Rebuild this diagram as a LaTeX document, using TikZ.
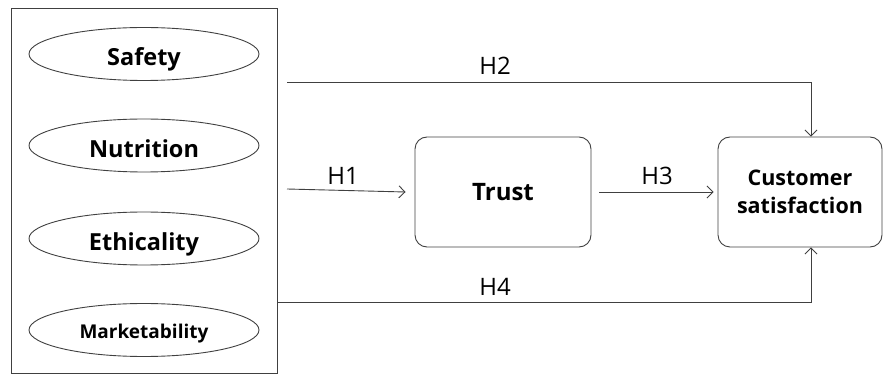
\documentclass[tikz,border=0pt]{standalone}
\usepackage{fontspec}
\setmainfont{Open Sans}
\usetikzlibrary{arrows.meta,shapes.geometric}
\begin{document}
\begin{tikzpicture}[x=1pt,y=-1pt, line width=0.9pt,
  oval/.style={ellipse, draw=black!75, minimum width=230pt, minimum height=53pt, inner sep=0pt, text height=24pt, text depth=0pt, font=\bfseries\fontsize{23.5}{26}\selectfont},
  rbox/.style={draw=black!75, rounded corners=12pt, inner sep=0pt, align=center, minimum height=110pt},
  hl/.style={font=\fontsize{24}{26}\selectfont, inner sep=0pt},
  arr/.style={draw=black!75, -{Straight Barb[length=6pt,width=12pt,line width=0.9pt]}}]
\useasboundingbox (0,0) rectangle (884,379);
\node[draw=black!75, minimum width=266pt, minimum height=365pt, inner sep=0pt] (grp) at (144,190.5) {};
\node[oval] (safety) at (144,54) {Safety};
\node[oval] (nutrition) at (144,145.5) {Nutrition};
\node[oval] (ethic) at (144,238.5) {Ethicality};
\node[oval, text height=17pt, font=\bfseries\fontsize{19}{22}\selectfont] (market) at (144,330) {Marketability};
\node[rbox, minimum width=176pt, font=\bfseries\fontsize{24}{26}\selectfont] (trust) at (503,192) {Trust};
\node[rbox, minimum width=164pt, font=\bfseries\fontsize{21.5}{28}\selectfont] (cs) at (800,192) {Customer\\satisfaction};
\coordinate (h2s) at (287,82);
\coordinate (h1s) at (287,189);
\coordinate (h4s) at (grp.east |- 0,302);
\draw[arr] (h2s) -- ([xshift=11pt]cs.north |- h2s) -- ([xshift=11pt]cs.north);
\draw[arr] (h1s) -- ([xshift=-9pt]trust.west);
\draw[arr] ([xshift=8pt]trust.east) -- ([xshift=-4pt]cs.west);
\draw[arr] (h4s) -- ([xshift=11pt]cs.south |- h4s) -- ([xshift=11pt]cs.south);
\node[hl] (lh2) at (495,66) {H2};
\node[hl] (lh1) at (343,176) {H1};
\node[hl] (lh3) at (657,176) {H3};
\node[hl] (lh4) at (495,287) {H4};
\end{tikzpicture}
\end{document}
